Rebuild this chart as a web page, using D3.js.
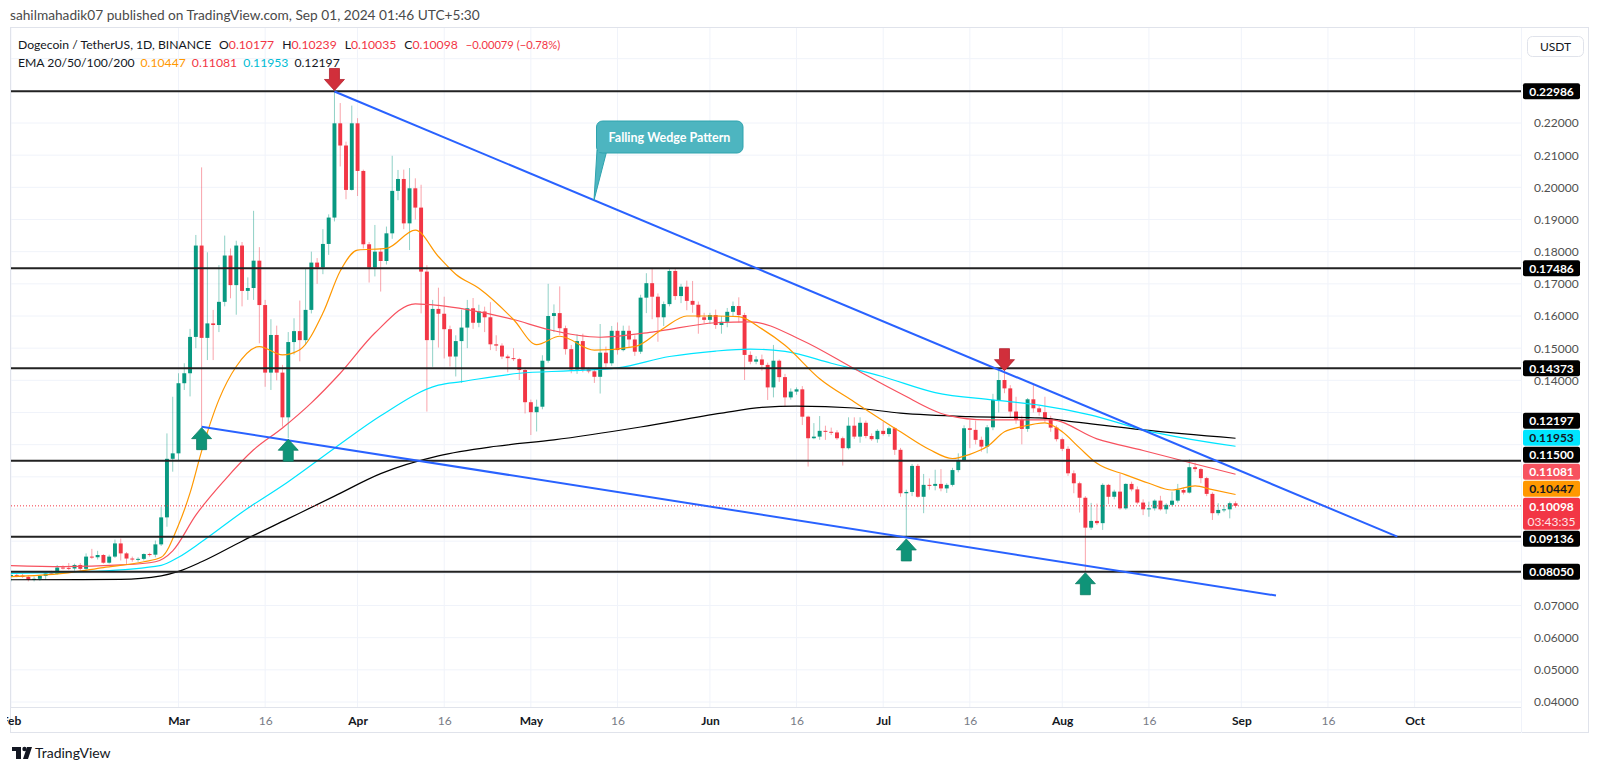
<!DOCTYPE html>
<html>
<head>
<meta charset="utf-8">
<script src="https://cdn.jsdelivr.net/npm/d3@7"></script>
<style>
  body { margin: 0; background: #fff; }
  svg { display: block; font-family: Lato, "Liberation Sans", sans-serif; }
</style>
</head>
<body>
<svg id="chart" width="1600" height="770"></svg>
<script>
// daily candles [open, high, low, close], Feb 1 .. Aug 31 2024
const febOHLC = [
  [0.0790,0.0800,0.0775,0.0795],[0.0795,0.0800,0.0788,0.0793],[0.0793,0.0798,0.0786,0.0789],[0.0789,0.0793,0.0775,0.0781],
  [0.0781,0.0790,0.0775,0.0783],[0.0783,0.0795,0.0777,0.0792],[0.0792,0.0803,0.0780,0.0800],[0.0800,0.0808,0.0795,0.0798],
  [0.0798,0.0826,0.0796,0.0818],[0.0818,0.0825,0.0812,0.0817],[0.0817,0.0832,0.0810,0.0815],[0.0815,0.0830,0.0808,0.0826],
  [0.0826,0.0832,0.0808,0.0814],[0.0814,0.0862,0.0810,0.0852],[0.0852,0.0876,0.0845,0.0850],[0.0850,0.0870,0.0843,0.0857],
  [0.0857,0.0860,0.0830,0.0833],[0.0833,0.0858,0.0830,0.0852],[0.0852,0.0905,0.0848,0.0893],[0.0893,0.0908,0.0840,0.0862],
  [0.0862,0.0866,0.0828,0.0846],[0.0846,0.0852,0.0836,0.0843],[0.0843,0.0850,0.0836,0.0845],[0.0845,0.0862,0.0840,0.0860],
  [0.0860,0.0864,0.0852,0.0858],[0.0858,0.0902,0.0850,0.0890],[0.0890,0.1007,0.0885,0.0974],[0.0974,0.1235,0.0945,0.1156],
  [0.1156,0.1349,0.1116,0.1173]
];
const marOHLC = [
  [0.1173,0.1422,0.1150,0.1391],[0.1391,0.1453,0.1370,0.1422],[0.1422,0.1560,0.1350,0.1535],[0.1535,0.1852,0.1500,0.1819],
  [0.1819,0.2062,0.1256,0.1532],[0.1532,0.1798,0.1463,0.1577],[0.1577,0.1619,0.1463,0.1572],[0.1572,0.1758,0.1550,0.1644],
  [0.1644,0.1850,0.1630,0.1788],[0.1788,0.1810,0.1655,0.1696],[0.1696,0.1834,0.1604,0.1819],[0.1819,0.1830,0.1630,0.1678],
  [0.1678,0.1720,0.1650,0.1687],[0.1687,0.1927,0.1650,0.1772],[0.1772,0.1814,0.1515,0.1634],[0.1634,0.1650,0.1380,0.1424],
  [0.1424,0.1590,0.1370,0.1541],[0.1541,0.1570,0.1400,0.1424],[0.1424,0.1448,0.1256,0.1285],[0.1285,0.1550,0.1220,0.1519],
  [0.1519,0.1593,0.1480,0.1553],[0.1553,0.1648,0.1459,0.1525],[0.1525,0.1748,0.1510,0.1619],[0.1619,0.1800,0.1608,0.1766],
  [0.1766,0.1780,0.1700,0.1751],[0.1751,0.1870,0.1730,0.1824],[0.1824,0.1916,0.1790,0.1906],[0.1906,0.2298,0.1894,0.2199],
  [0.2199,0.2262,0.2065,0.2130],[0.2130,0.2142,0.1963,0.1992],[0.1992,0.2254,0.1990,0.2199]
];
const aprOHLC = [
  [0.2199,0.2215,0.1973,0.2051],[0.2051,0.2055,0.1810,0.1823],[0.1823,0.1830,0.1704,0.1751],[0.1751,0.1883,0.1723,0.1800],
  [0.1800,0.1810,0.1676,0.1771],[0.1771,0.1878,0.1760,0.1857],[0.1857,0.2098,0.1840,0.1989],[0.1989,0.2054,0.1960,0.2026],
  [0.2026,0.2055,0.1870,0.1888],[0.1888,0.2060,0.1805,0.1997],[0.1997,0.2028,0.1900,0.1937],[0.1937,0.2008,0.1608,0.1738],
  [0.1738,0.1758,0.1303,0.1525],[0.1525,0.1650,0.1442,0.1622],[0.1622,0.1688,0.1502,0.1607],[0.1607,0.1660,0.1468,0.1559],
  [0.1559,0.1570,0.1443,0.1474],[0.1474,0.1540,0.1412,0.1522],[0.1522,0.1620,0.1392,0.1564],[0.1564,0.1650,0.1500,0.1624],
  [0.1624,0.1656,0.1560,0.1579],[0.1579,0.1635,0.1565,0.1614],[0.1614,0.1629,0.1550,0.1596],[0.1596,0.1643,0.1494,0.1512],
  [0.1512,0.1540,0.1491,0.1508],[0.1508,0.1515,0.1466,0.1474],[0.1474,0.1480,0.1425,0.1469],[0.1469,0.1500,0.1460,0.1466],
  [0.1466,0.1470,0.1401,0.1432],[0.1432,0.1440,0.1297,0.1332]
];
const mayOHLC = [
  [0.1332,0.1340,0.1230,0.1301],[0.1301,0.1340,0.1241,0.1318],[0.1318,0.1478,0.1310,0.1461],[0.1461,0.1700,0.1455,0.1600],
  [0.1600,0.1636,0.1550,0.1609],[0.1609,0.1692,0.1541,0.1562],[0.1562,0.1570,0.1480,0.1497],[0.1497,0.1510,0.1422,0.1434],
  [0.1434,0.1543,0.1420,0.1522],[0.1522,0.1545,0.1425,0.1434],[0.1434,0.1440,0.1422,0.1428],[0.1428,0.1432,0.1392,0.1411],
  [0.1411,0.1575,0.1359,0.1486],[0.1486,0.1505,0.1440,0.1453],[0.1453,0.1569,0.1445,0.1554],[0.1554,0.1580,0.1480,0.1494],
  [0.1494,0.1570,0.1490,0.1554],[0.1554,0.1570,0.1500,0.1527],[0.1527,0.1540,0.1476,0.1489],[0.1489,0.1666,0.1482,0.1657],
  [0.1657,0.1733,0.1609,0.1702],[0.1702,0.1747,0.1590,0.1660],[0.1660,0.1670,0.1520,0.1596],[0.1596,0.1645,0.1569,0.1637],
  [0.1637,0.1747,0.1630,0.1740],[0.1740,0.1747,0.1650,0.1662],[0.1662,0.1700,0.1640,0.1691],[0.1691,0.1710,0.1618,0.1647],
  [0.1647,0.1709,0.1610,0.1635],[0.1635,0.1645,0.1545,0.1596],[0.1596,0.1610,0.1577,0.1588]
];
const junOHLC = [
  [0.1588,0.1610,0.1575,0.1603],[0.1603,0.1620,0.1560,0.1572],[0.1572,0.1600,0.1545,0.1582],[0.1582,0.1625,0.1565,0.1613],
  [0.1613,0.1645,0.1600,0.1631],[0.1631,0.1658,0.1580,0.1603],[0.1603,0.1610,0.1401,0.1479],[0.1479,0.1490,0.1450,0.1458],
  [0.1458,0.1475,0.1450,0.1465],[0.1465,0.1480,0.1430,0.1448],[0.1448,0.1455,0.1339,0.1378],[0.1378,0.1510,0.1347,0.1461],
  [0.1461,0.1465,0.1395,0.1410],[0.1410,0.1420,0.1320,0.1347],[0.1347,0.1375,0.1340,0.1365],[0.1365,0.1378,0.1355,0.1372],
  [0.1372,0.1382,0.1261,0.1287],[0.1287,0.1290,0.1132,0.1220],[0.1220,0.1267,0.1217,0.1225],[0.1225,0.1289,0.1215,0.1243],
  [0.1243,0.1259,0.1215,0.1240],[0.1240,0.1253,0.1230,0.1238],[0.1238,0.1245,0.1215,0.1220],[0.1220,0.1225,0.1135,0.1189],
  [0.1189,0.1285,0.1185,0.1259],[0.1259,0.1285,0.1218,0.1225],[0.1225,0.1285,0.1206,0.1268],[0.1268,0.1275,0.1220,0.1227],
  [0.1227,0.1235,0.1212,0.1217],[0.1217,0.1248,0.1206,0.1243]
];
const julOHLC = [
  [0.1243,0.1271,0.1228,0.1233],[0.1233,0.1256,0.1225,0.1251],[0.1251,0.1255,0.1168,0.1184],[0.1184,0.1190,0.1038,0.1049],
  [0.1049,0.1060,0.0910,0.1053],[0.1053,0.1140,0.1040,0.1134],[0.1134,0.1140,0.1035,0.1038],[0.1038,0.1109,0.0987,0.1075],
  [0.1075,0.1095,0.1060,0.1072],[0.1072,0.1122,0.1058,0.1078],[0.1078,0.1124,0.1055,0.1064],[0.1064,0.1080,0.1050,0.1075],
  [0.1075,0.1128,0.1070,0.1121],[0.1121,0.1173,0.1114,0.1152],[0.1152,0.1260,0.1148,0.1251],[0.1251,0.1277,0.1189,0.1246],
  [0.1246,0.1275,0.1201,0.1215],[0.1215,0.1225,0.1178,0.1194],[0.1194,0.1261,0.1173,0.1254],[0.1254,0.1358,0.1245,0.1339],
  [0.1339,0.1434,0.1300,0.1401],[0.1401,0.1427,0.1360,0.1375],[0.1375,0.1385,0.1283,0.1303],[0.1303,0.1349,0.1265,0.1277],
  [0.1277,0.1290,0.1201,0.1249],[0.1249,0.1345,0.1240,0.1341],[0.1341,0.1386,0.1300,0.1313],[0.1313,0.1320,0.1290,0.1301],
  [0.1301,0.1349,0.1270,0.1282],[0.1282,0.1290,0.1240,0.1253],[0.1253,0.1260,0.1210,0.1217]
];
const augOHLC = [
  [0.1217,0.1222,0.1180,0.1187],[0.1187,0.1195,0.1103,0.1111],[0.1111,0.1120,0.1049,0.1080],[0.1080,0.1085,0.0989,0.1035],
  [0.1035,0.1040,0.0805,0.0942],[0.0942,0.1019,0.0935,0.0963],[0.0963,0.1017,0.0950,0.0956],[0.0956,0.1080,0.0935,0.1075],
  [0.1075,0.1078,0.1015,0.1038],[0.1038,0.1060,0.1030,0.1054],[0.1054,0.1110,0.0998,0.1002],[0.1002,0.1080,0.0998,0.1078],
  [0.1078,0.1085,0.1055,0.1061],[0.1061,0.1070,0.1015,0.1020],[0.1020,0.1030,0.0981,0.0999],[0.0999,0.1023,0.0976,0.1002],
  [0.1002,0.1030,0.0995,0.1026],[0.1026,0.1041,0.0995,0.0999],[0.0999,0.1018,0.0985,0.1013],[0.1013,0.1054,0.1008,0.1026],
  [0.1026,0.1078,0.1020,0.1059],[0.1059,0.1065,0.1045,0.1051],[0.1051,0.1155,0.1048,0.1130],[0.1130,0.1144,0.1115,0.1124],
  [0.1124,0.1128,0.1080,0.1096],[0.1096,0.1100,0.1040,0.1047],[0.1047,0.1052,0.0966,0.0987],[0.0987,0.1018,0.0980,0.0997],
  [0.0997,0.1012,0.0990,0.0999],[0.0999,0.1023,0.0971,0.1018],[0.10177,0.10239,0.10035,0.10098]
];

// moving averages [date, value]
const ema20 = [
  ["2024-02-01",0.0790],["2024-02-10",0.0800],["2024-02-17",0.0818],["2024-02-24",0.0836],["2024-02-27",0.0850],
  ["2024-03-01",0.0950],["2024-03-03",0.1050],["2024-03-05",0.1180],["2024-03-08",0.1340],["2024-03-11",0.1443],
  ["2024-03-15",0.1505],["2024-03-19",0.1479],["2024-03-22",0.1495],["2024-03-26",0.1609],["2024-03-29",0.1740],
  ["2024-04-01",0.1805],["2024-04-06",0.1810],["2024-04-11",0.1867],["2024-04-15",0.1785],["2024-04-18",0.1730],
  ["2024-04-22",0.1686],["2024-04-28",0.1589],["2024-05-02",0.1511],["2024-05-06",0.1537],["2024-05-12",0.1494],
  ["2024-05-19",0.1505],["2024-05-24",0.1562],["2024-05-28",0.1600],["2024-06-02",0.1600],["2024-06-06",0.1598],
  ["2024-06-10",0.1560],["2024-06-14",0.1509],["2024-06-20",0.1405],["2024-06-26",0.1333],["2024-07-04",0.1240],
  ["2024-07-09",0.1185],["2024-07-13",0.1157],["2024-07-16",0.1170],["2024-07-19",0.1194],["2024-07-22",0.1240],
  ["2024-07-25",0.1256],["2024-07-29",0.1268],["2024-08-01",0.1240],["2024-08-04",0.1190],["2024-08-07",0.1142],
  ["2024-08-12",0.1106],["2024-08-16",0.1080],["2024-08-20",0.1059],["2024-08-24",0.1072],["2024-08-27",0.1060],
  ["2024-08-31",0.1045]
];
const ema50 = [
  ["2024-02-01",0.0824],["2024-02-10",0.0821],["2024-02-20",0.0826],["2024-02-26",0.0836],["2024-02-29",0.0870],
  ["2024-03-04",0.0981],["2024-03-09",0.1090],["2024-03-14",0.1184],["2024-03-19",0.1252],["2024-03-24",0.1330],
  ["2024-03-29",0.1422],["2024-04-04",0.1547],["2024-04-11",0.1638],["2024-04-15",0.1633],["2024-04-20",0.1620],
  ["2024-04-28",0.1589],["2024-05-04",0.1558],["2024-05-13",0.1534],["2024-05-22",0.1550],["2024-06-02",0.1579],
  ["2024-06-08",0.1582],["2024-06-17",0.1524],["2024-06-26",0.1436],["2024-07-04",0.1359],["2024-07-12",0.1292],
  ["2024-07-19",0.1277],["2024-07-30",0.1277],["2024-08-07",0.1218],["2024-08-15",0.1182],["2024-08-24",0.1140],
  ["2024-08-31",0.1108]
];
const ema100 = [
  ["2024-02-01",0.0800],["2024-02-15",0.0806],["2024-02-27",0.0825],["2024-03-01",0.0850],["2024-03-05",0.0898],
  ["2024-03-12",0.0990],["2024-03-20",0.1085],["2024-03-28",0.1189],["2024-04-05",0.1290],["2024-04-15",0.1385],
  ["2024-04-19",0.1396],["2024-04-29",0.1422],["2024-05-08",0.1430],["2024-05-16",0.1439],["2024-05-25",0.1474],
  ["2024-06-02",0.1491],["2024-06-08",0.1497],["2024-06-14",0.1490],["2024-06-22",0.1453],["2024-07-01",0.1411],
  ["2024-07-10",0.1362],["2024-07-20",0.1339],["2024-07-28",0.1323],["2024-08-06",0.1292],["2024-08-15",0.1246],
  ["2024-08-31",0.1195]
];
const ema200 = [
  ["2024-02-01",0.0780],["2024-02-20",0.0781],["2024-02-27",0.0792],["2024-03-01",0.0806],["2024-03-05",0.0836],
  ["2024-03-12",0.0900],["2024-03-20",0.0970],["2024-03-28",0.1040],["2024-04-05",0.1110],["2024-04-15",0.1165],
  ["2024-04-25",0.1195],["2024-05-05",0.1215],["2024-05-20",0.1255],["2024-06-03",0.1298],["2024-06-10",0.1316],
  ["2024-06-16",0.1320],["2024-06-26",0.1314],["2024-07-04",0.1298],["2024-07-16",0.1287],["2024-07-28",0.1283],
  ["2024-08-03",0.1271],["2024-08-15",0.1246],["2024-08-31",0.1220]
];

const levels = [0.22986, 0.17486, 0.14373, 0.11500, 0.09136, 0.08050];
const upperWedge = [["2024-03-28", 0.2298], ["2024-09-28", 0.0914]];
const lowerWedge = [["2024-03-05", 0.1256], ["2024-09-07", 0.0731]];
const downArrows = [["2024-03-28", 0.2298], ["2024-07-22", 0.1427]];
const upArrows = [["2024-03-05", 0.1256], ["2024-03-20", 0.1220], ["2024-07-05", 0.0910], ["2024-08-05", 0.0805]];

const timeTicks = ["2024-02-01","2024-03-01","2024-03-16","2024-04-01","2024-04-16","2024-05-01","2024-05-16",
  "2024-06-01","2024-06-16","2024-07-01","2024-07-16","2024-08-01","2024-08-16","2024-09-01","2024-09-16","2024-10-01"];
const priceTicks = d3.range(4, 25).map(d => d / 100);

const GREEN = "#089981", RED = "#f23645";
const parse = d3.utcParse("%Y-%m-%d");
const ohlc = [].concat(febOHLC, marOHLC, aprOHLC, mayOHLC, junOHLC, julOHLC, augOHLC);
const days = d3.utcDays(parse("2024-02-01"), parse("2024-09-01"));
const candles = days.map((d, i) => ({ date: d, o: ohlc[i][0], h: ohlc[i][1], l: ohlc[i][2], c: ohlc[i][3] }));
const last = candles[candles.length - 1];

const plot = { left: 11, right: 1521, top: 28, bottom: 707 };

const x = d3.scaleUtc().domain([parse("2024-03-01"), parse("2024-10-01")]).range([178.5, 1414.6]);
const y = d3.scaleLinear().domain([0.04, 0.22]).range([702, 123]);
const step = x(parse("2024-03-02")) - x(parse("2024-03-01"));
const bw = Math.max(1, step * 0.68);

const svg = d3.select("#chart");

// header
svg.append("text").attr("x", 10).attr("y", 20).attr("font-size", 13.7).attr("fill", "#4a4a4a")
  .text("sahilmahadik07 published on TradingView.com, Sep 01, 2024 01:46 UTC+5:30");

// frame
svg.append("rect").attr("x", 10.5).attr("y", 27.5).attr("width", 1578).attr("height", 705)
  .attr("fill", "#fff").attr("stroke", "#e0e3eb");

svg.append("clipPath").attr("id", "plotClip").append("rect")
  .attr("x", plot.left).attr("y", plot.top).attr("width", plot.right - plot.left).attr("height", plot.bottom - plot.top);

const grid = svg.append("g").attr("clip-path", "url(#plotClip)");
grid.selectAll(".vg").data(timeTicks).join("line")
  .attr("x1", d => x(parse(d))).attr("x2", d => x(parse(d)))
  .attr("y1", plot.top).attr("y2", plot.bottom).attr("stroke", "#f0f3fa");
grid.selectAll(".hg").data(priceTicks).join("line")
  .attr("x1", plot.left).attr("x2", plot.right)
  .attr("y1", d => y(d)).attr("y2", d => y(d)).attr("stroke", "#f0f3fa");

const g = svg.append("g").attr("clip-path", "url(#plotClip)");

// candles
const cg = g.append("g");
cg.selectAll("line").data(candles).join("line")
  .attr("x1", d => x(d.date)).attr("x2", d => x(d.date))
  .attr("y1", d => y(d.h)).attr("y2", d => y(d.l))
  .attr("stroke", d => d.c >= d.o ? GREEN : RED).attr("stroke-opacity", 0.45).attr("stroke-width", 1);
cg.selectAll("rect").data(candles).join("rect")
  .attr("x", d => x(d.date) - bw / 2).attr("width", bw)
  .attr("y", d => y(Math.max(d.o, d.c)))
  .attr("height", d => Math.max(1, Math.abs(y(d.o) - y(d.c))))
  .attr("fill", d => d.c >= d.o ? GREEN : RED);

// moving averages
const line = d3.line().x(d => x(parse(d[0]))).y(d => y(d[1])).curve(d3.curveMonotoneX);
[[ema200, "#000000"], [ema100, "#00e5ff"], [ema50, "#f7525f"], [ema20, "#ff9800"]].forEach(([data, col]) => {
  g.append("path").attr("d", line(data)).attr("fill", "none").attr("stroke", col).attr("stroke-width", 1.2);
});

// current price line
g.append("line").attr("x1", plot.left).attr("x2", plot.right)
  .attr("y1", y(last.c)).attr("y2", y(last.c))
  .attr("stroke", RED).attr("stroke-dasharray", "1,2");

// horizontal levels
g.selectAll(".lvl").data(levels).join("line")
  .attr("x1", plot.left).attr("x2", plot.right)
  .attr("y1", d => y(d)).attr("y2", d => y(d))
  .attr("stroke", "#222").attr("stroke-width", 2);

// wedge lines
[upperWedge, lowerWedge].forEach(w => {
  g.append("line")
    .attr("x1", x(parse(w[0][0]))).attr("y1", y(w[0][1]))
    .attr("x2", x(parse(w[1][0]))).attr("y2", y(w[1][1]))
    .attr("stroke", "#2962ff").attr("stroke-width", 2);
});

// arrows
function arrowPath(cx, tipY, dir) {
  // dir = 1 pointing down (tip at bottom), -1 pointing up
  const s = -dir;
  return `M${cx},${tipY} L${cx - 10},${tipY + s * 11} L${cx - 5},${tipY + s * 11} L${cx - 5},${tipY + s * 22}` +
    ` L${cx + 5},${tipY + s * 22} L${cx + 5},${tipY + s * 11} L${cx + 10},${tipY + s * 11} Z`;
}
svg.selectAll(".dn").data(downArrows).join("path")
  .attr("d", d => arrowPath(x(parse(d[0])), y(d[1]) - 1, 1))
  .attr("fill", "#d12f3b").attr("stroke", "#b2222e").attr("stroke-width", 0.8);
svg.selectAll(".up").data(upArrows).join("path")
  .attr("d", d => arrowPath(x(parse(d[0])), y(d[1]) + 1, -1))
  .attr("fill", "#0f9478").attr("stroke", "#0a7d64").attr("stroke-width", 0.8);

// callout
const tipX = 594, tipY = y(upperWedge[0][1]) + (tipX - x(parse(upperWedge[0][0]))) *
  (y(upperWedge[1][1]) - y(upperWedge[0][1])) / (x(parse(upperWedge[1][0])) - x(parse(upperWedge[0][0])));
svg.append("path").attr("d", `M597,150 L607,150 L${tipX},${tipY} Z`).attr("fill", "#4db5c0").attr("stroke", "#2ea3ae");
svg.append("rect").attr("x", 596.5).attr("y", 121).attr("width", 146.5).attr("height", 32).attr("rx", 6)
  .attr("fill", "#4db5c0").attr("stroke", "#2ea3ae");
svg.append("rect").attr("x", 598).attr("y", 146).attr("width", 8).attr("height", 6).attr("fill", "#4db5c0");
svg.append("text").attr("x", 669.5).attr("y", 141.5).attr("text-anchor", "middle")
  .attr("font-size", 12.5).attr("font-weight", "bold").attr("fill", "#fff").text("Falling Wedge Pattern");

// time axis
svg.append("line").attr("x1", 10).attr("x2", plot.right).attr("y1", plot.bottom + 0.5).attr("y2", plot.bottom + 0.5)
  .attr("stroke", "#e0e3eb");
svg.append("clipPath").attr("id", "axClip").append("rect").attr("x", 7).attr("y", 700).attr("width", 1514).attr("height", 40);
const xAxis = d3.axisBottom(x).tickValues(timeTicks.map(parse)).tickSize(0)
  .tickFormat(d => d.getUTCDate() === 1 ? d3.utcFormat("%b")(d) : d3.utcFormat("%-d")(d));
const xWrap = svg.append("g").attr("clip-path", "url(#axClip)");
const xg = xWrap.append("g").attr("transform", `translate(0,${plot.bottom + 6})`).call(xAxis);
xg.select(".domain").remove();
xg.selectAll("text").attr("font-size", 12).attr("font-family", "Lato, sans-serif")
  .attr("fill", d => d.getUTCDate() === 1 ? "#131722" : "#787b86")
  .attr("font-weight", d => d.getUTCDate() === 1 ? "bold" : "normal");

// price axis
svg.append("line").attr("x1", plot.right + 0.5).attr("x2", plot.right + 0.5).attr("y1", 28).attr("y2", 733).attr("stroke", "#f0f3fa");

// price labels on the right axis, stacked round the current price
const tags = [
  { v: 0.22986, bg: "#000", fg: "#fff" },
  { v: 0.17486, bg: "#000", fg: "#fff" },
  { v: 0.14373, bg: "#000", fg: "#fff" },
  { v: 0.12197, bg: "#000", fg: "#fff" },
  { v: 0.11953, bg: "#00e5ff", fg: "#131722" },
  { v: 0.11500, bg: "#000", fg: "#fff" },
  { v: 0.11081, bg: "#f7525f", fg: "#fff" },
  { v: 0.10447, bg: "#ff9800", fg: "#131722" },
  { v: 0.09136, bg: "#000", fg: "#fff" },
  { v: 0.08050, bg: "#000", fg: "#fff" }
];
const H = 16, GAP = 1;
const curTop = y(last.c) - 8, curBot = curTop + 32;
let limit = curTop - GAP;
tags.filter(t => t.v > last.c).sort((a, b) => a.v - b.v).forEach(t => {
  t.cy = Math.min(y(t.v), limit - H / 2);
  limit = t.cy - H / 2 - GAP;
});
limit = curBot + GAP;
tags.filter(t => t.v < last.c).sort((a, b) => b.v - a.v).forEach(t => {
  t.cy = Math.max(y(t.v), limit + H / 2);
  limit = t.cy + H / 2 + GAP;
});

// tick labels that sit under a tag are hidden
const covered = v => Math.abs(y(v) - (curTop + 16)) < 22 || tags.some(t => Math.abs(y(v) - t.cy) < 10) || y(v) < 60;
const yAxis = d3.axisRight(y).tickValues(priceTicks.filter(v => !covered(v))).tickSize(0).tickFormat(d3.format(".5f"));
const yg = svg.append("g").attr("transform", `translate(${plot.right + 10},0)`).call(yAxis);
yg.select(".domain").remove();
yg.selectAll("text").attr("font-size", 12).attr("font-family", "Lato, sans-serif").attr("fill", "#505050");

// USDT box
svg.append("rect").attr("x", 1527.5).attr("y", 36.5).attr("width", 56).attr("height", 20).attr("rx", 5)
  .attr("fill", "#fff").attr("stroke", "#e0e3eb");
svg.append("text").attr("x", 1555.5).attr("y", 50.5).attr("text-anchor", "middle").attr("font-size", 12)
  .attr("fill", "#131722").text("USDT");

const tg = svg.selectAll(".tag").data(tags).join("g");
tg.append("rect").attr("x", 1523).attr("width", 57).attr("y", d => d.cy - H / 2).attr("height", H).attr("rx", 2)
  .attr("fill", d => d.bg);
tg.append("text").attr("x", 1551.5).attr("y", d => d.cy + 4.5).attr("text-anchor", "middle")
  .attr("font-size", 12).attr("font-weight", "bold").attr("fill", d => d.fg).text(d => d3.format(".5f")(d.v));

svg.append("rect").attr("x", 1523).attr("width", 57).attr("y", curTop).attr("height", 32).attr("rx", 2).attr("fill", RED);
svg.append("text").attr("x", 1551.5).attr("y", curTop + 13).attr("text-anchor", "middle").attr("font-size", 12)
  .attr("font-weight", "bold").attr("fill", "#fff").text(d3.format(".5f")(last.c));
svg.append("text").attr("x", 1551.5).attr("y", curTop + 28).attr("text-anchor", "middle").attr("font-size", 12)
  .attr("fill", "#ffe3e5").text("03:43:35");

// legend
const LF = 12.2;
const lg1 = svg.append("text").attr("x", 18).attr("y", 48.5).attr("font-size", LF);
lg1.append("tspan").attr("fill", "#131722").text("Dogecoin / TetherUS, 1D, BINANCE");
[["O", last.o], ["H", last.h], ["L", last.l], ["C", last.c]].forEach(([k, v]) => {
  lg1.append("tspan").attr("dx", 8).attr("fill", "#131722").text(k);
  lg1.append("tspan").attr("fill", RED).text(d3.format(".5f")(v));
});
lg1.append("tspan").attr("dx", 8).attr("fill", RED).attr("font-size", 11.2).text("\u22120.00079 (\u22120.78%)");

const lg2 = svg.append("text").attr("x", 18).attr("y", 66.5).attr("font-size", LF);
lg2.append("tspan").attr("fill", "#131722").text("EMA 20/50/100/200");
[["0.10447", "#ff9800"], ["0.11081", RED], ["0.11953", "#00bcd4"], ["0.12197", "#131722"]]
  .forEach(([t, col]) => lg2.append("tspan").attr("dx", 6).attr("fill", col).text(t));

// footer logo
const logo = svg.append("g").attr("fill", "#131722");
logo.append("rect").attr("x", 12).attr("y", 747).attr("width", 9).attr("height", 4);
logo.append("rect").attr("x", 16).attr("y", 747).attr("width", 5).attr("height", 12);
logo.append("circle").attr("cx", 24.5).attr("cy", 749).attr("r", 2.2);
logo.append("path").attr("d", "M27,747 L32,747 L28,759 L23,759 Z");
svg.append("text").attr("x", 35).attr("y", 758).attr("font-size", 14).attr("fill", "#131722").text("TradingView");
</script>
</body>
</html>
